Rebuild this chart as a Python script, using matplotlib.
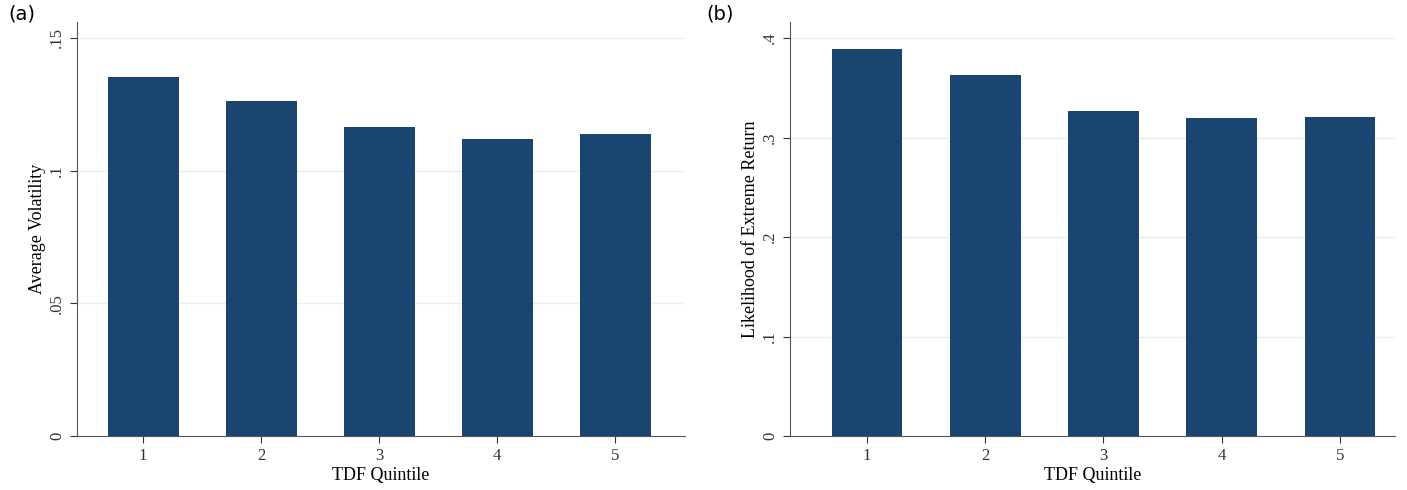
import matplotlib

matplotlib.use("Agg")
import matplotlib.pyplot as plt

quintiles = [1, 2, 3, 4, 5]
volatility = [0.1353, 0.1262, 0.1164, 0.1119, 0.1138]
extreme = [0.389, 0.3628, 0.3266, 0.3196, 0.3206]

BAR = "#1a4570"
GRID = "#e6eef2"
SERIF = ["Liberation Serif", "DejaVu Serif"]

fig = plt.figure(figsize=(14.07, 4.9), dpi=100)
W, H = 1407, 490


def panel(left, right, xlim, vals, ymax, ticks, labels, ylabel, tag, tagx):
    ax = fig.add_axes([left / W, 1 - 436 / H, (right - left) / W, (436 - 22) / H])
    ax.bar(quintiles, vals, width=0.6, color=BAR, zorder=2)
    ax.set_xlim(*xlim)
    ax.set_ylim(0, ymax)
    ax.set_yticks(ticks)
    ax.set_yticklabels(labels, rotation=90, va="center", family=SERIF, fontsize=12)
    ax.set_xticks(quintiles)
    ax.set_xticklabels([str(q) for q in quintiles], family=SERIF, fontsize=12)
    ax.set_xlabel("TDF Quintile", family=SERIF, fontsize=13, labelpad=2)
    ax.set_ylabel(ylabel, family=SERIF, fontsize=13, labelpad=2)
    for t in ticks[1:]:
        ax.axhline(t, color=GRID, lw=1, zorder=1)
    for s in ("top", "right"):
        ax.spines[s].set_visible(False)
    ax.spines["left"].set_color("#555555")
    ax.spines["bottom"].set_color("#555555")
    ax.tick_params(colors="#333333", length=5)
    fig.text(tagx / W, 1 - 14 / H, tag, fontsize=14, va="center", ha="left")
    return ax


panel(77, 685, (0.44, 5.59), volatility, 0.15 * 414 / 398, [0, 0.05, 0.1, 0.15],
      ["0", ".05", ".1", ".15"], "Average Volatility", "(a)", 8)
panel(790, 1395, (0.349, 5.465), extreme, 0.4 * 414 / 398, [0, 0.1, 0.2, 0.3, 0.4],
      ["0", ".1", ".2", ".3", ".4"], "Likelihood of Extreme Return", "(b)", 706)

fig.savefig("out.png", dpi=100)
